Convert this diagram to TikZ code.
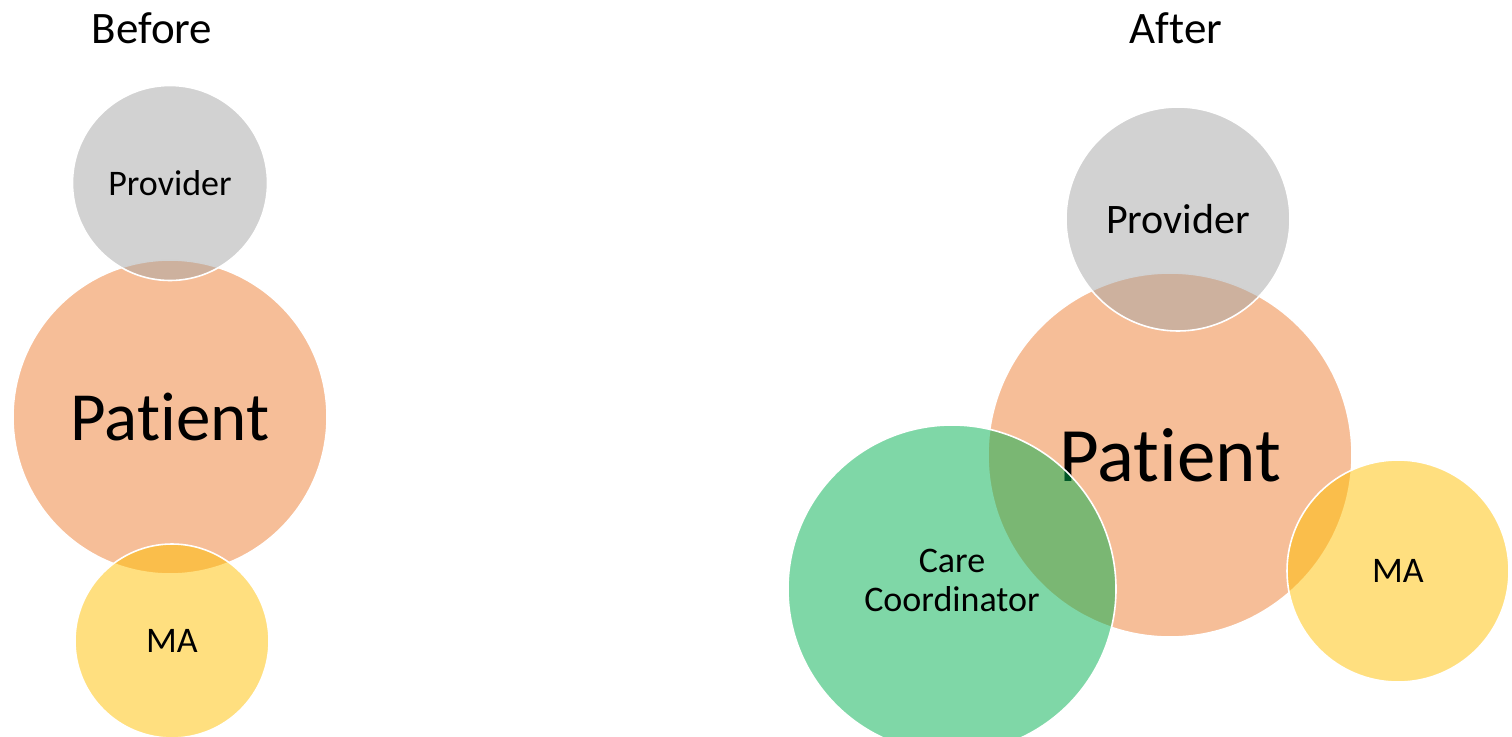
\documentclass[tikz,border=0pt]{standalone}
\usepackage{fontspec}
\setmainfont{Carlito}[Ligatures={NoCommon,NoContextual}]
\definecolor{PATIENT}{HTML}{ED7D31}
\definecolor{PROVIDER}{HTML}{A5A5A5}
\definecolor{MA}{HTML}{FFC000}
\definecolor{COORD}{HTML}{00B050}

\begin{document}
\begin{tikzpicture}[x=1pt, y=-1pt, every node/.style={circle, draw=white, line width=1.6pt, fill opacity=0.5, text opacity=1, text=black, inner sep=0pt, align=center}]
				\useasboundingbox (0,0) rectangle (1512,736);

				% titles
				\node [draw=none, anchor=base, font=\fontsize{45}{54}\selectfont] (before) at (152,43) {Before};
				\node [draw=none, anchor=base, font=\fontsize{45}{54}\selectfont] (after)  at (1176,43) {After};

				% before
				\node [fill=PATIENT,  minimum size=314pt, font=\fontsize{69}{80}\selectfont] (patientL)  at (170,417) {Patient};
				\node [fill=PROVIDER, minimum size=195pt, font=\fontsize{36}{40}\selectfont] (providerL) at (170,183) {Provider};
				\node [fill=MA,       minimum size=194pt, font=\fontsize{36}{40}\selectfont] (maL)       at (172,641) {MA};

				% after
				\node [fill=PATIENT,  minimum size=364pt, font=\fontsize{77}{90}\selectfont] (patientR)  at (1170,455) {Patient};
				\node [fill=PROVIDER, minimum size=224pt, font=\fontsize{42}{46}\selectfont] (providerR) at (1178,219) {Provider};
				\node [fill=MA,       minimum size=222pt, font=\fontsize{36}{40}\selectfont] (maR)       at (1398,571) {MA};
				\node [fill=COORD,    minimum size=328pt, font=\fontsize{36}{39}\selectfont] (coord)     at (952,589) {Care\\Coordinator\rule[-18pt]{0pt}{0pt}};
			\end{tikzpicture}
\end{document}
